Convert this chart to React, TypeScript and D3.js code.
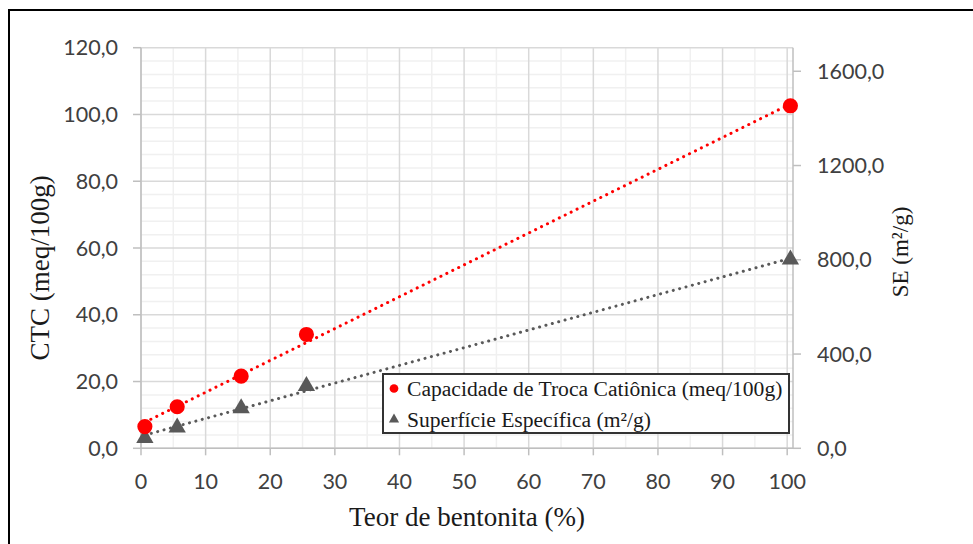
import { useEffect, useRef } from 'react';
import * as d3 from 'd3';

// Data
const bentonite = [0.6, 5.6, 15.5, 25.6, 100.5];
const ctcValues = [6.5, 12.45, 21.6, 34.1, 102.6];
const seValues = [44, 88, 170, 264, 801];

const xTicks = [0, 10, 20, 30, 40, 50, 60, 70, 80, 90, 100];
const leftTicks = [0, 20, 40, 60, 80, 100, 120];
const rightTicks = [0, 400, 800, 1200, 1600];

const legendLabels = [
  'Capacidade de Troca Catiônica (meq/100g)',
  'Superfície Específica (m²/g)',
];

const fmt = (v: number) => v.toFixed(1).replace('.', ',');

// simple least squares fit, like Excel's linear trendline
const linearFit = (xs: number[], ys: number[]) => {
  const mx = d3.mean(xs)!;
  const my = d3.mean(ys)!;
  const num = d3.sum(xs, (x, i) => (x - mx) * (ys[i] - my));
  const den = d3.sum(xs, (x) => (x - mx) ** 2);
  const slope = num / den;
  return { slope, intercept: my - slope * mx };
};

const Chart: React.FC = () => {
  const svgRef = useRef<SVGSVGElement | null>(null);

  useEffect(() => {
    if (!svgRef.current) return;
    const width = 973;
    const height = 544;
    const left = 141;
    const right = 793;
    const top = 47.7;
    const bottom = 448.3;

    const svg = d3.select(svgRef.current);
    svg.selectAll('*').remove();
    svg.attr('width', width).attr('height', height);

    svg.append('rect').attr('width', width).attr('height', height).attr('fill', '#fff');

    // outer border (top and left only visible)
    svg
      .append('path')
      .attr('d', `M9,${height} V10 H${width}`)
      .attr('fill', 'none')
      .attr('stroke', '#000')
      .attr('stroke-width', 2);

    const x = d3.scaleLinear().domain([0, 100.9]).range([left, right]);
    const yL = d3.scaleLinear().domain([0, 120]).range([bottom, top]);
    const yR = d3.scaleLinear().domain([0, 1700]).range([bottom, top]);

    const grid = svg.append('g');
    // minor gridlines
    d3.range(5, 100, 10).forEach((v) => {
      grid
        .append('line')
        .attr('x1', x(v))
        .attr('x2', x(v))
        .attr('y1', top)
        .attr('y2', bottom)
        .attr('stroke', '#f0f0f0')
        .attr('stroke-width', 1.5);
    });
    d3.range(4, 120, 4)
      .filter((v) => v % 20 !== 0)
      .forEach((v) => {
        grid
          .append('line')
          .attr('x1', left)
          .attr('x2', right)
          .attr('y1', yL(v))
          .attr('y2', yL(v))
          .attr('stroke', '#f0f0f0')
          .attr('stroke-width', 1.5);
      });
    // major gridlines
    xTicks.forEach((v) => {
      grid
        .append('line')
        .attr('x1', x(v))
        .attr('x2', x(v))
        .attr('y1', top)
        .attr('y2', bottom)
        .attr('stroke', '#d9d9d9')
        .attr('stroke-width', 1.5);
    });
    leftTicks.forEach((v) => {
      grid
        .append('line')
        .attr('x1', left)
        .attr('x2', right)
        .attr('y1', yL(v))
        .attr('y2', yL(v))
        .attr('stroke', '#d9d9d9')
        .attr('stroke-width', 1.5);
    });

    // axis lines + ticks
    const axisColor = '#bfbfbf';
    const tickFont = 'Lato, "Open Sans", sans-serif';
    const axes = svg.append('g').attr('stroke', axisColor).attr('stroke-width', 1.5);
    axes.append('line').attr('x1', left).attr('x2', left).attr('y1', top).attr('y2', bottom);
    axes.append('line').attr('x1', right).attr('x2', right).attr('y1', top).attr('y2', bottom);
    axes.append('line').attr('x1', left).attr('x2', right).attr('y1', bottom).attr('y2', bottom);
    leftTicks.forEach((v) => {
      axes.append('line').attr('x1', left - 8).attr('x2', left).attr('y1', yL(v)).attr('y2', yL(v));
    });
    rightTicks.forEach((v) => {
      axes.append('line').attr('x1', right).attr('x2', right + 8).attr('y1', yR(v)).attr('y2', yR(v));
    });
    xTicks.forEach((v) => {
      axes.append('line').attr('x1', x(v)).attr('x2', x(v)).attr('y1', bottom).attr('y2', bottom + 7);
    });

    const labels = svg.append('g').attr('fill', '#404040').style('font-family', tickFont).style('font-size', '21.5px');
    leftTicks.forEach((v) => {
      labels
        .append('text')
        .attr('x', 118)
        .attr('y', yL(v))
        .attr('dy', '0.35em')
        .attr('text-anchor', 'end')
        .text(fmt(v));
    });
    rightTicks.forEach((v) => {
      labels
        .append('text')
        .attr('x', 817)
        .attr('y', yR(v))
        .attr('dy', '0.35em')
        .text(fmt(v));
    });
    xTicks.forEach((v) => {
      labels
        .append('text')
        .attr('x', x(v))
        .attr('y', 481)
        .attr('dy', '0.35em')
        .attr('text-anchor', 'middle')
        .text(String(v));
    });

    // axis titles
    const serif = '"Liberation Serif", "Times New Roman", serif';
    const titles = svg.append('g').attr('fill', '#1a1a1a').style('font-family', serif).style('font-size', '27px');
    titles
      .append('text')
      .attr('x', 467)
      .attr('y', 517)
      .attr('dy', '0.35em')
      .attr('text-anchor', 'middle')
      .text('Teor de bentonita (%)');
    titles
      .append('text')
      .attr('transform', 'translate(40,268) rotate(-90)')
      .attr('dy', '0.35em')
      .attr('text-anchor', 'middle')
      .text('CTC (meq/100g)');
    titles
      .append('text')
      .attr('transform', 'translate(900,252) rotate(-90)')
      .attr('dy', '0.35em')
      .attr('text-anchor', 'middle')
      .style('font-size', '23px')
      .text('SE (m²/g)');

    // trendlines
    const x0 = d3.min(bentonite)!;
    const x1 = d3.max(bentonite)!;
    const series = [
      { values: ctcValues, y: yL, color: '#ff0000' },
      { values: seValues, y: yR, color: '#595959' },
    ];
    series.forEach((s) => {
      const fit = linearFit(bentonite, s.values);
      const line = d3
        .line<number>()
        .x((d) => x(d))
        .y((d) => s.y(fit.intercept + fit.slope * d));
      svg
        .append('path')
        .attr('d', line([x0, x1]))
        .attr('fill', 'none')
        .attr('stroke', s.color)
        .attr('stroke-width', 3)
        .attr('stroke-linecap', 'round')
        .attr('stroke-dasharray', '0.1 6.5');
    });

    // markers
    const circle = d3.symbol().type(d3.symbolCircle).size(180);
    const triangle = d3.symbol().type(d3.symbolTriangle).size(130);
    bentonite.forEach((b, i) => {
      svg
        .append('path')
        .attr('d', triangle()!)
        .attr('transform', `translate(${x(b)},${yR(seValues[i])})`)
        .attr('fill', '#595959');
    });
    bentonite.forEach((b, i) => {
      svg
        .append('path')
        .attr('d', circle()!)
        .attr('transform', `translate(${x(b)},${yL(ctcValues[i])})`)
        .attr('fill', '#ff0000');
    });

    // legend
    const legend = svg.append('g').attr('transform', 'translate(383,374)');
    legend
      .append('rect')
      .attr('width', 406)
      .attr('height', 59)
      .attr('fill', '#fff')
      .attr('stroke', '#333')
      .attr('stroke-width', 2);
    legend
      .append('path')
      .attr('d', d3.symbol().type(d3.symbolCircle).size(60)()!)
      .attr('transform', 'translate(11,14.5)')
      .attr('fill', '#ff0000');
    legend
      .append('path')
      .attr('d', d3.symbol().type(d3.symbolTriangle).size(45)()!)
      .attr('transform', 'translate(11,45.5)')
      .attr('fill', '#595959');
    legendLabels.forEach((label, i) => {
      legend
        .append('text')
        .attr('x', 24)
        .attr('y', 14.5 + i * 31)
        .attr('dy', '0.35em')
        .attr('fill', '#1a1a1a')
        .style('font-family', serif)
        .style('font-size', '21.6px')
        .text(label);
    });
  }, []);

  return <svg ref={svgRef} style={{ position: 'absolute', left: 0, top: 0 }} />;
};

export default function App() {
  return <Chart />;
}
